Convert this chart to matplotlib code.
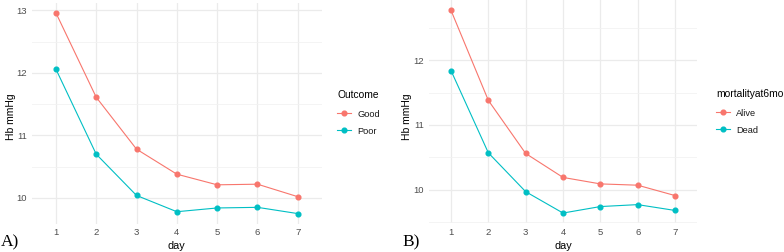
import matplotlib
matplotlib.use("Agg")
import matplotlib.pyplot as plt
from matplotlib.ticker import MultipleLocator

days = [1, 2, 3, 4, 5, 6, 7]
good = [12.96, 11.61, 10.78, 10.38, 10.21, 10.22, 10.02]
poor = [12.06, 10.70, 10.04, 9.78, 9.84, 9.85, 9.75]
alive = [12.77, 11.38, 10.56, 10.19, 10.09, 10.07, 9.91]
dead = [11.84, 10.57, 9.97, 9.64, 9.74, 9.77, 9.68]

C1 = "#F8766D"
C2 = "#00BFC4"
plt.rcParams['font.family'] = ['Liberation Sans', 'DejaVu Sans']

fig = plt.figure(figsize=(7.84, 2.52), dpi=100)
W, H = 784, 252

def make_ax(x0, x1, ytop, ybot):
    return fig.add_axes([x0 / W, 1 - ybot / H, (x1 - x0) / W, (ybot - ytop) / H])

axA = make_ax(31.7, 322, 2.8, 223.6)
axB = make_ax(428.6, 697.4, 0.0, 223.4)

def style(ax, ylim, yticks, s1, s2, n1, n2, title, leg_x, leg_y, ylab_x, xlab_x):
    ax.set_xlim(0.4, 7.6)
    ax.set_ylim(*ylim)
    ax.set_xticks(days)
    ax.set_yticks(yticks)
    ax.yaxis.set_minor_locator(MultipleLocator(0.5))
    ax.grid(True, which='major', color='#EBEBEB', lw=0.9)
    ax.grid(True, which='minor', axis='y', color='#F2F2F2', lw=0.6)
    ax.set_axisbelow(True)
    for sp in ax.spines.values():
        sp.set_visible(False)
    ax.tick_params(which='both', length=0, labelsize=6.8, labelcolor='#4D4D4D', pad=3.4)
    ax.plot(days, s1, color=C1, lw=0.8, marker='o', ms=3.4, label=n1)
    ax.plot(days, s2, color=C2, lw=0.8, marker='o', ms=3.4, label=n2)
    ax.set_xlabel('day', fontsize=7.8)
    ax.set_ylabel('Hb mmHg', fontsize=7.5)
    ax.xaxis.set_label_coords(xlab_x / W, 1 - 246 / H, transform=fig.transFigure)
    ax.xaxis.label.set_va('center')
    ax.yaxis.set_label_coords(ylab_x / W, 1 - 117 / H, transform=fig.transFigure)
    ax.yaxis.label.set_va('center')
    leg = ax.legend(title=title, loc='upper left', bbox_to_anchor=(leg_x / W, 1 - leg_y / H),
                    bbox_transform=fig.transFigure, frameon=False, fontsize=6.7,
                    title_fontsize=7.4, handlelength=1.5, handletextpad=0.7,
                    labelspacing=0.85, borderaxespad=0, borderpad=0)
    leg._legend_box.align = 'left'
    leg._legend_box.sep = 7
    for t in leg.get_texts():
        t.set_color('#1A1A1A')

style(axA, (9.59, 13.12), [10, 11, 12, 13], good, poor, 'Good', 'Poor', 'Outcome', 337, 90, 11, 176)
style(axB, (9.48, 12.93), [10, 11, 12], alive, dead, 'Alive', 'Dead', 'mortalityat6mo', 716, 89, 407, 563)

fig.text(1 / W, 1 - 242 / H, 'A)', family='Liberation Serif', fontsize=12.5, va='center', ha='left')
fig.text(402 / W, 1 - 242 / H, 'B)', family='Liberation Serif', fontsize=12.5, va='center', ha='left')

fig.savefig('out.png', dpi=100)
